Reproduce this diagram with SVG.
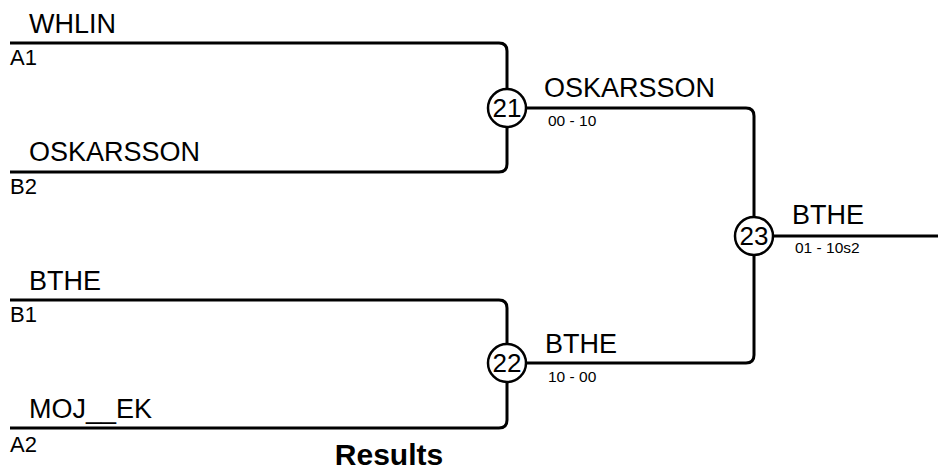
<svg xmlns="http://www.w3.org/2000/svg" width="938" height="471" viewBox="0 0 938 471">
<style>
.ln{fill:none;stroke:#000;stroke-width:3;stroke-linejoin:round}
.c{fill:#fff;stroke:#000;stroke-width:2.5}
text{font-family:"Liberation Sans",Arial,sans-serif;fill:#000}
.nm{font-size:27px}
.sd{font-size:22px}
.sc{font-size:15.5px}
.num{font-size:26px;text-anchor:middle}
.ttl{font-size:30px;font-weight:bold;text-anchor:middle}
</style>
<rect width="938" height="471" fill="#fff"/>
<g id="connectors">
<path class="ln" d="M10 43 H499 Q507 43 507 51 V88"/>
<path class="ln" d="M10 172 H499 Q507 172 507 164 V128"/>
<path class="ln" d="M10 300 H499 Q507 300 507 308 V343"/>
<path class="ln" d="M10 428 H499 Q507 428 507 420 V383"/>
<path class="ln" d="M527 108 H746 Q754 108 754 116 V216"/>
<path class="ln" d="M527 363 H746 Q754 363 754 355 V256"/>
<path class="ln" d="M774 236 H938"/>
</g>
<g id="entry-a1">
<text class="nm" x="29" y="33">WHLIN</text>
<text class="sd" x="10" y="65">A1</text>
</g>
<g id="entry-b2">
<text class="nm" x="29" y="161">OSKARSSON</text>
<text class="sd" x="10" y="194">B2</text>
</g>
<g id="entry-b1">
<text class="nm" x="29" y="290">BTHE</text>
<text class="sd" x="10" y="322">B1</text>
</g>
<g id="entry-a2">
<text class="nm" x="29" y="418">MOJ__EK</text>
<text class="sd" x="10" y="452">A2</text>
</g>
<g id="match-21">
<circle class="c" cx="507" cy="108" r="19"/>
<text class="num" x="507" y="117">21</text>
<text class="nm" x="544" y="97">OSKARSSON</text>
<text class="sc" x="548" y="126">00 - 10</text>
</g>
<g id="match-22">
<circle class="c" cx="507" cy="363" r="19"/>
<text class="num" x="507" y="372">22</text>
<text class="nm" x="545" y="353">BTHE</text>
<text class="sc" x="548" y="382">10 - 00</text>
</g>
<g id="match-23">
<circle class="c" cx="754" cy="236" r="19"/>
<text class="num" x="754" y="245">23</text>
<text class="nm" x="792" y="224">BTHE</text>
<text class="sc" x="795" y="253">01 - 10s2</text>
</g>
<text class="ttl" x="389" y="465">Results</text>
</svg>
